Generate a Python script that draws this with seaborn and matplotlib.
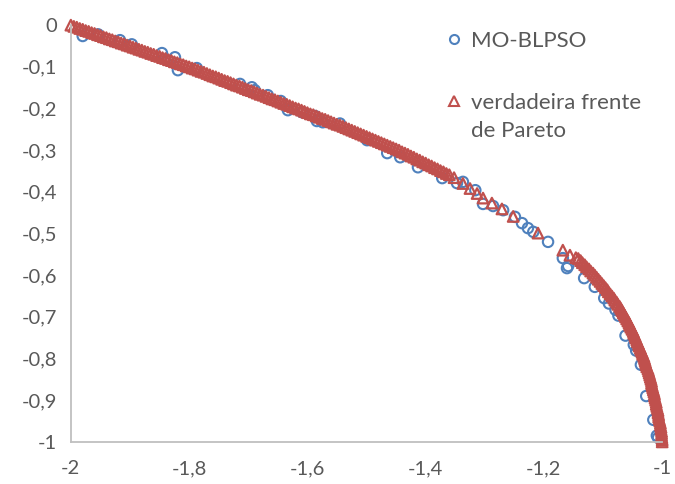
import matplotlib
matplotlib.use("Agg")
import matplotlib.pyplot as plt
from matplotlib.lines import Line2D
from matplotlib.transforms import IdentityTransform
import seaborn as sns
import pandas as pd

# MO-BLPSO solutions (f1, f2)
blpso_x = [-1.980, -1.954, -1.917, -1.897, -1.846, -1.824, -1.819, -1.787, -1.714, -1.694,
           -1.689, -1.667, -1.645, -1.633, -1.609, -1.587, -1.584, -1.574, -1.545, -1.499,
           -1.465, -1.443, -1.413, -1.372, -1.347, -1.337, -1.316, -1.303, -1.286, -1.269,
           -1.249, -1.237, -1.227, -1.218, -1.193, -1.168, -1.159, -1.161, -1.132, -1.114,
           -1.098, -1.090, -1.079, -1.074, -1.062, -1.048, -1.044, -1.036, -1.027, -1.015,
           -1.009, -1.007]
blpso_y = [-0.026, -0.022, -0.036, -0.046, -0.067, -0.077, -0.108, -0.103, -0.141, -0.149,
           -0.156, -0.168, -0.182, -0.204, -0.209, -0.218, -0.230, -0.233, -0.236, -0.276,
           -0.307, -0.317, -0.341, -0.367, -0.379, -0.376, -0.396, -0.429, -0.434, -0.444,
           -0.460, -0.475, -0.487, -0.496, -0.520, -0.559, -0.578, -0.583, -0.607, -0.628,
           -0.655, -0.668, -0.683, -0.697, -0.745, -0.767, -0.781, -0.815, -0.890, -0.947,
           -0.985, -0.990]

# true Pareto front: dense upper part, sparse middle, dense lower part
front_x = [-2.000, -1.995, -1.990, -1.985, -1.980, -1.975, -1.970, -1.965, -1.960, -1.955,
           -1.950, -1.945, -1.940, -1.935, -1.930, -1.925, -1.920, -1.915, -1.910, -1.905,
           -1.900, -1.895, -1.890, -1.885, -1.880, -1.875, -1.870, -1.865, -1.860, -1.855,
           -1.850, -1.845, -1.840, -1.835, -1.830, -1.825, -1.820, -1.815, -1.810, -1.805,
           -1.800, -1.795, -1.790, -1.785, -1.780, -1.775, -1.770, -1.765, -1.760, -1.755,
           -1.750, -1.745, -1.740, -1.735, -1.730, -1.725, -1.720, -1.715, -1.710, -1.705,
           -1.700, -1.695, -1.690, -1.685, -1.680, -1.675, -1.670, -1.665, -1.660, -1.655,
           -1.650, -1.645, -1.640, -1.635, -1.630, -1.625, -1.620, -1.615, -1.610, -1.605,
           -1.600, -1.595, -1.590, -1.585, -1.580, -1.575, -1.570, -1.565, -1.560, -1.555,
           -1.550, -1.545, -1.540, -1.535, -1.530, -1.525, -1.520, -1.515, -1.510, -1.505,
           -1.500, -1.495, -1.490, -1.485, -1.480, -1.475, -1.470, -1.465, -1.460, -1.455,
           -1.450, -1.445, -1.440, -1.435, -1.430, -1.425, -1.420, -1.415, -1.410, -1.405,
           -1.400, -1.395, -1.390, -1.385, -1.380, -1.375, -1.370, -1.365, -1.360,
           -1.352, -1.337, -1.325, -1.313, -1.303, -1.288, -1.271, -1.252, -1.210, -1.168,
           -1.156, -1.146,
           -1.142, -1.138, -1.135, -1.131, -1.128, -1.124, -1.121, -1.117, -1.114, -1.111,
           -1.108, -1.105, -1.102, -1.099, -1.096, -1.093, -1.091, -1.088, -1.085, -1.082,
           -1.080, -1.077, -1.075, -1.072, -1.070, -1.068, -1.066, -1.064, -1.062, -1.060,
           -1.058, -1.056, -1.055, -1.053, -1.051, -1.049, -1.048, -1.046, -1.045, -1.043,
           -1.042, -1.040, -1.039, -1.037, -1.036, -1.034, -1.033, -1.031, -1.030, -1.029,
           -1.028, -1.027, -1.026, -1.024, -1.023, -1.022, -1.021, -1.020, -1.019, -1.018,
           -1.018, -1.017, -1.016, -1.015, -1.014, -1.013, -1.013, -1.012, -1.011, -1.010,
           -1.010, -1.009, -1.008, -1.007, -1.007, -1.006, -1.006, -1.005, -1.004, -1.003,
           -1.003, -1.002, -1.002, -1.001, -1.001, -1.001, -1.0005, -1.000, -1.000]
front_y = [0.000, -0.003, -0.005, -0.008, -0.010, -0.013, -0.015, -0.018, -0.020, -0.023,
           -0.025, -0.028, -0.030, -0.033, -0.035, -0.038, -0.040, -0.043, -0.045, -0.048,
           -0.050, -0.053, -0.055, -0.058, -0.060, -0.063, -0.065, -0.068, -0.070, -0.073,
           -0.075, -0.078, -0.080, -0.083, -0.085, -0.088, -0.090, -0.093, -0.095, -0.098,
           -0.100, -0.103, -0.105, -0.108, -0.111, -0.113, -0.116, -0.119, -0.122, -0.124,
           -0.127, -0.130, -0.133, -0.135, -0.138, -0.141, -0.144, -0.146, -0.149, -0.152,
           -0.155, -0.157, -0.160, -0.163, -0.166, -0.168, -0.171, -0.174, -0.177, -0.179,
           -0.182, -0.185, -0.188, -0.190, -0.193, -0.196, -0.199, -0.201, -0.204, -0.207,
           -0.210, -0.213, -0.215, -0.218, -0.221, -0.224, -0.226, -0.229, -0.232, -0.235,
           -0.238, -0.240, -0.243, -0.246, -0.249, -0.252, -0.255, -0.258, -0.261, -0.264,
           -0.267, -0.270, -0.273, -0.276, -0.279, -0.282, -0.285, -0.288, -0.291, -0.294,
           -0.297, -0.300, -0.304, -0.307, -0.310, -0.314, -0.317, -0.321, -0.324, -0.328,
           -0.331, -0.335, -0.338, -0.342, -0.345, -0.349, -0.352, -0.356, -0.359,
           -0.366, -0.380, -0.392, -0.404, -0.415, -0.427, -0.441, -0.459, -0.499, -0.540,
           -0.552, -0.558,
           -0.560, -0.565, -0.570, -0.575, -0.580, -0.585, -0.590, -0.595, -0.600, -0.605,
           -0.610, -0.615, -0.620, -0.625, -0.630, -0.635, -0.640, -0.645, -0.650, -0.655,
           -0.660, -0.665, -0.670, -0.675, -0.680, -0.685, -0.690, -0.695, -0.700, -0.705,
           -0.710, -0.715, -0.720, -0.725, -0.730, -0.735, -0.740, -0.745, -0.750, -0.755,
           -0.760, -0.765, -0.770, -0.775, -0.780, -0.785, -0.790, -0.795, -0.800, -0.805,
           -0.810, -0.815, -0.820, -0.825, -0.830, -0.835, -0.840, -0.845, -0.850, -0.855,
           -0.860, -0.865, -0.870, -0.875, -0.880, -0.885, -0.890, -0.895, -0.900, -0.905,
           -0.910, -0.915, -0.920, -0.925, -0.930, -0.935, -0.940, -0.945, -0.950, -0.955,
           -0.960, -0.965, -0.970, -0.975, -0.980, -0.985, -0.990, -0.995, -1.000]

x_ticks = [-2, -1.8, -1.6, -1.4, -1.2, -1]
y_ticks = [0, -0.1, -0.2, -0.3, -0.4, -0.5, -0.6, -0.7, -0.8, -0.9, -1]

blue = "#4F81BD"
red = "#C0504D"
grey_text = "#595959"

sns.set_style("white")
plt.rcParams["font.family"] = ["Lato", "DejaVu Sans"]

fig = plt.figure(figsize=(6.75, 4.84), dpi=100)
ax = fig.add_axes([0.105, 0.087, 0.876, 0.861])

df1 = pd.DataFrame({"f1": blpso_x, "f2": blpso_y})
df2 = pd.DataFrame({"f1": front_x, "f2": front_y})

sns.scatterplot(data=df1, x="f1", y="f2", marker="o", s=56, ax=ax, legend=False)
sns.scatterplot(data=df2, x="f1", y="f2", marker="^", s=58, ax=ax, legend=False)

cols = ax.collections
cols[0].set_facecolor("none")
cols[0].set_edgecolor(blue)
cols[0].set_linewidth(1.5)
cols[1].set_facecolor("none")
cols[1].set_edgecolor(red)
cols[1].set_linewidth(1.6)
for c in cols:
    c.set_clip_on(False)

ax.set_xlim(-2, -1)
ax.set_ylim(-1, 0)
ax.set_xticks(x_ticks)
ax.set_yticks(y_ticks)
fmt = lambda v: ("%g" % v).replace(".", ",")
ax.set_xticklabels([fmt(v) for v in x_ticks])
ax.set_yticklabels([fmt(v) for v in y_ticks])
ax.tick_params(axis="both", length=0, labelsize=14.5, labelcolor=grey_text)
ax.tick_params(axis="x", pad=13)
ax.tick_params(axis="y", pad=10)
ax.set_xlabel("")
ax.set_ylabel("")

for s in ["top", "right"]:
    ax.spines[s].set_visible(False)
for s in ["left", "bottom"]:
    ax.spines[s].set_color("#BFBFBF")
    ax.spines[s].set_linewidth(1.3)

handles = [
    Line2D([], [], ls="none", marker="o", ms=6.5, mfc="none", mec=blue, mew=1.5),
    Line2D([], [], ls="none", marker="^", ms=6.5, mfc="none", mec=red, mew=1.5),
]
leg = fig.legend(handles, ["MO-BLPSO", "verdadeira frente"],
                 loc="upper left", bbox_to_anchor=(0.630, 0.978), frameon=False,
                 fontsize=16, labelcolor=grey_text, handletextpad=0.36,
                 handlelength=0.8, labelspacing=1.89)

# second line of the second legend label, aligned under the first line
fig.canvas.draw()
bb = leg.get_texts()[1].get_window_extent()
fig.text(bb.x0, bb.y0 - 28, "de Pareto", transform=IdentityTransform(),
         fontsize=16, color=grey_text, ha="left", va="bottom")

fig.savefig("out.png", dpi=100)
